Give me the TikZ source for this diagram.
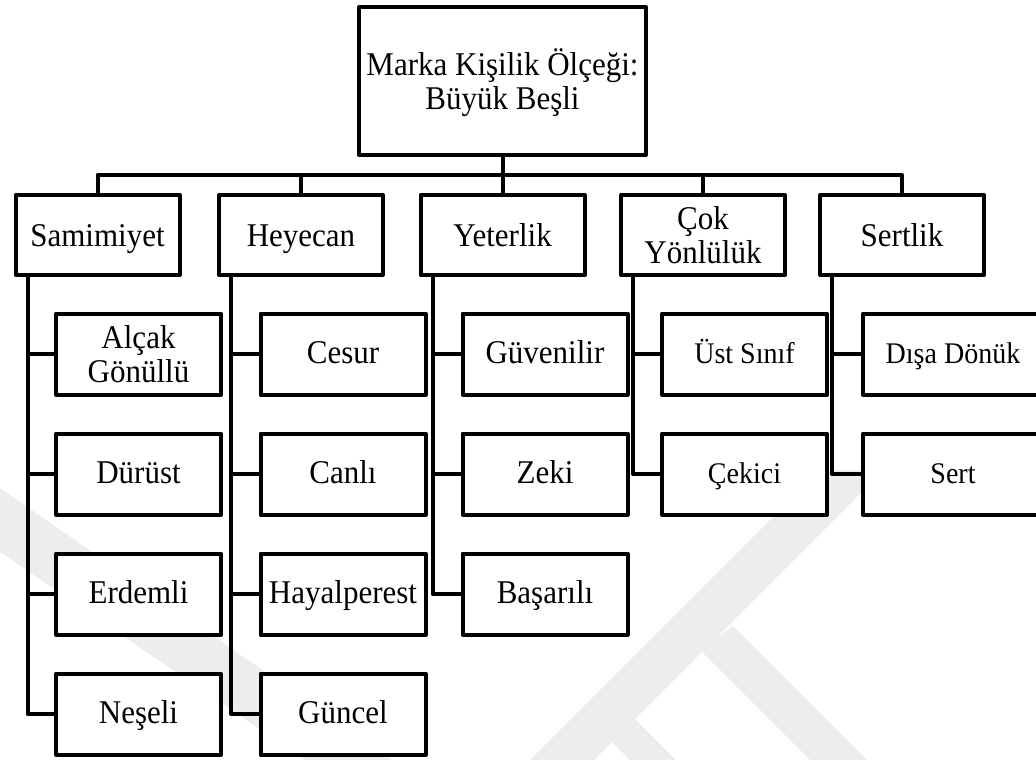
\documentclass[tikz,border=0pt]{standalone}
\usepackage{fontspec}
\usepackage{graphicx}
\setmainfont{Liberation Serif}
% slightly tall lettering
\newcommand\tall[1]{\scalebox{1}[1.07]{#1}}
% two centred lines whose baseline is the baseline of the lower line
\newcommand\twolines[2]{\tall{\begin{tabular}[b]{@{}c@{}}#1\\#2\end{tabular}}}
\begin{document}
\begin{tikzpicture}[x=1pt,y=-1pt,
  every node/.style={inner sep=0pt},
  card/.style={draw,fill=white,line width=4pt,line join=round,
    font=\fontsize{31}{31.3}\selectfont,text depth=0pt,text height=22.5pt},
  twoline/.style={text height=56pt},
  rootbox/.style={card,twoline,minimum width=287pt,minimum height=148pt},
  dimbox/.style={card,minimum width=164pt,minimum height=80pt},
  itembox/.style={card,text height=19.8pt,minimum width=165pt,minimum height=81pt},
  smallitem/.style={itembox,font=\fontsize{28}{30}\selectfont,text height=18.7pt},
  wideitem/.style={smallitem,minimum width=180pt},
  link/.style={line width=4pt,line join=round},
  emblem/.style={fill=black!7,draw=none}]
\useasboundingbox (0,0) rectangle (1036,760);

% faint background emblem
\fill[emblem] (0,488) -- (0,552) -- (305,760) -- (392,760) -- cycle;
\fill[emblem] (530,760) -- (594,760) -- (884,470) -- (820,470) -- cycle;
\fill[emblem] (700,650) -- (810,760) -- (867,760) -- (733,626) -- cycle;
\fill[emblem] (635,719) -- (676,760) -- (630,760) -- (612,742) -- cycle;

% top level
\node[rootbox] (root) at (502.5,81) {\twolines{Marka Kişilik Ölçeği:}{Büyük Beşli}};

% five dimensions
\node[dimbox] (sam)  at (97.5,235) {\tall{Samimiyet}};
\node[dimbox] (hey)  at (301,235)  {\tall{Heyecan}};
\node[dimbox] (yet)  at (502.5,235) {\tall{Yeterlik}};
\node[dimbox,twoline] (cok) at (703,235) {\twolines{Çok}{Yönlülük}};
\node[dimbox] (sert) at (902,235)  {\tall{Sertlik}};

% facets
\node[itembox,twoline] (s1) at (138.5,354) {\twolines{Alçak}{Gönüllü}};
\node[itembox] (s2) at (138.5,474) {\tall{Dürüst}};
\node[itembox] (s3) at (138.5,594) {\tall{Erdemli}};
\node[itembox] (s4) at (138.5,714) {\tall{Neşeli}};

\node[itembox] (h1) at (343,354) {\tall{Cesur}};
\node[itembox] (h2) at (343,474) {\tall{Canlı}};
\node[itembox] (h3) at (343,594) {\tall{Hayalperest}};
\node[itembox] (h4) at (343,714) {\tall{Güncel}};

\node[itembox] (y1) at (545,354) {\tall{Güvenilir}};
\node[itembox] (y2) at (545,474) {\tall{Zeki}};
\node[itembox] (y3) at (545,594) {\tall{Başarılı}};

\node[smallitem] (c1) at (744.5,354) {\tall{Üst Sınıf}};
\node[smallitem] (c2) at (744.5,474) {\tall{Çekici}};

\node[wideitem] (t1) at (953,354) {\tall{Dışa Dönük}};
\node[wideitem] (t2) at (953,474) {\tall{Sert}};

% root to dimensions
\coordinate (bus) at (0,175);
\draw[link] (root.south) -- (yet.north);
\draw[link] (sam.north) -- (sam.north |- bus) -- (sert.north |- bus) -- (sert.north);
\draw[link] (hey.north) -- (hey.north |- bus);
\draw[link] (cok.north) -- (cok.north |- bus);

% dimension trunks to facets
\coordinate (samT)  at ([xshift=14pt]sam.south west);
\coordinate (heyT)  at ([xshift=14pt]hey.south west);
\coordinate (yetT)  at ([xshift=14pt]yet.south west);
\coordinate (cokT)  at ([xshift=14pt]cok.south west);
\coordinate (sertT) at ([xshift=14pt]sert.south west);

\draw[link] (samT) |- (s4.west);
\foreach \c in {s1,s2,s3} \draw[link] (\c.west) -- (\c.west -| samT);
\draw[link] (heyT) |- (h4.west);
\foreach \c in {h1,h2,h3} \draw[link] (\c.west) -- (\c.west -| heyT);
\draw[link] (yetT) |- (y3.west);
\foreach \c in {y1,y2} \draw[link] (\c.west) -- (\c.west -| yetT);
\draw[link] (cokT) |- (c2.west);
\draw[link] (c1.west) -- (c1.west -| cokT);
\draw[link] (sertT) |- (t2.west);
\draw[link] (t1.west) -- (t1.west -| sertT);
\end{tikzpicture}
\end{document}
